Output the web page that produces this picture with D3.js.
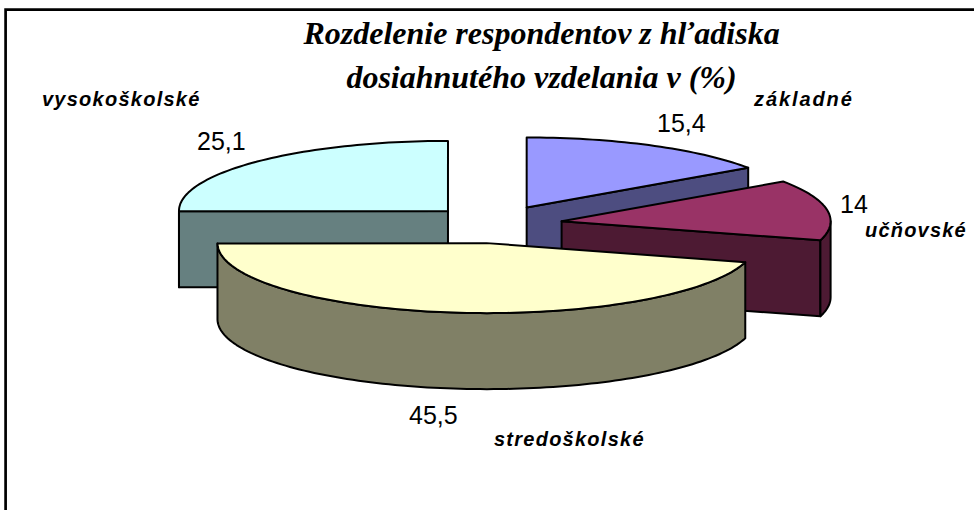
<!DOCTYPE html>
<html>
<head>
<meta charset="utf-8">
<script src="https://cdn.jsdelivr.net/npm/d3@7"></script>
<style>
    html, body { margin: 0; padding: 0; background: #fff; }
    svg { display: block; }
</style>
</head>
<body>
<div id="chart"></div>
<script>
// Chart data
const categories = ["základné", "učňovské", "stredoškolské", "vysokoškolské"]
const values = [15.4, 14, 45.5, 25.1]
const valueLabels = ["15,4", "14", "45,5", "25,1"]
const titleLines = ["Rozdelenie respondentov z hľadiska", "dosiahnutého vzdelania v (%)"]

const topColours = ["#9999ff", "#993366", "#ffffcc", "#ccffff"]
const sideColours = ["#4d4d80", "#4d1a33", "#808066", "#668080"]

// Define chart parameters
const WIDTH = 974
const HEIGHT = 510
const PIE = {CENTREX:495.5, CENTREY:224.3, RX:269, RY:70, DEPTH:76, EXPLODEX:67, EXPLODEY:19}

// Label anchor points, one per category
const VALUE_POS = [[657,132], [840,213], [409,424], [197,150]]
const NAME_POS = [[754,106], [865,237], [494,446], [42,106]]
const NAME_SPACING = [1.9, 1.2, 1.25, 1.25]

let svg = d3.select("#chart").append("svg")
    .attr('width', WIDTH)
    .attr('height', HEIGHT)

// Frame: only the top and left lines are visible in the picture
svg.append('path')
    .attr('d', d3.line()([[5.6,HEIGHT],[5.6,9.6],[WIDTH,9.6]]))
    .attr('fill', 'none')
    .attr('stroke', '#000')
    .attr('stroke-width', 2.7)

// Pie layout, in drawing order from the first slice clockwise from 12 o'clock
let pie = d3.pie().sort(null).startAngle(0).endAngle(2*Math.PI)
let slices = pie(values).map((d,i) => {
    const mid = (d.startAngle + d.endAngle) / 2
    return {
        ...d, i,
        cx: PIE.CENTREX + PIE.EXPLODEX * Math.sin(mid),
        cy: PIE.CENTREY - PIE.EXPLODEY * Math.cos(mid)
    }
})

// Project an angle on the rim of a slice to screen coordinates, z is the drop below the top face
const rimPoint = (s, a, z=0) => [s.cx + PIE.RX * Math.sin(a), s.cy - PIE.RY * Math.cos(a) + z]
const rimRange = (s, a0, a1, z=0) => {
    const n = Math.max(2, Math.ceil(Math.abs(a1-a0) * 40))
    return d3.range(n+1).map(k => rimPoint(s, a0 + (a1-a0)*k/n, z))
}
const line = d3.line()

// Back to front: vysokoškolské, základné, učňovské, stredoškolské
const order = [3, 0, 1, 2]
const g = svg.append('g')
    .attr('stroke', '#000')
    .attr('stroke-width', 2)
    .attr('stroke-linejoin', 'round')

order.forEach(i => {
    const s = slices[i]
    const apex = [s.cx, s.cy]
    const a0 = s.startAngle, a1 = s.endAngle
    const down = p => [p[0], p[1] + PIE.DEPTH]

    // Front cut face, seen when the slice ends left of the right side or starts on the left side
    if (i === 0 || i === 1) {
        const p = rimPoint(s, a1)
        g.append('path').attr('fill', sideColours[i])
            .attr('d', line([apex, p, down(p), down(apex)]) + 'Z')
    }
    if (i === 3) {
        const p = rimPoint(s, a0)
        g.append('path').attr('fill', sideColours[i])
            .attr('d', line([p, apex, down(apex), down(p)]) + 'Z')
    }

    // Outer wall, the part of the rim that faces the viewer (90 to 270 degrees)
    const w0 = Math.max(a0, Math.PI/2), w1 = Math.min(a1, 3*Math.PI/2)
    if (w1 > w0) {
        g.append('path').attr('fill', sideColours[i])
            .attr('d', line(rimRange(s, w0, w1).concat(rimRange(s, w1, w0, PIE.DEPTH))) + 'Z')
    }

    // Top face
    g.append('path').attr('fill', topColours[i])
        .attr('d', line([apex].concat(rimRange(s, a0, a1))) + 'Z')
})

// Title
svg.append('g').selectAll('text')
    .data(titleLines)
    .enter()
    .append('text')
    .attr('x', 541.5)
    .attr('y', (d,i) => 44 + i*43.5)
    .attr('text-anchor', 'middle')
    .style('font', 'italic bold 32px "Liberation Serif"')
    .text(d => d)

// Value labels
svg.append('g').selectAll('text')
    .data(valueLabels)
    .enter()
    .append('text')
    .attr('x', (d,i) => VALUE_POS[i][0])
    .attr('y', (d,i) => VALUE_POS[i][1])
    .style('font', '25px "Liberation Sans"')
    .text(d => d)

// Category labels
svg.append('g').selectAll('text')
    .data(categories)
    .enter()
    .append('text')
    .attr('x', (d,i) => NAME_POS[i][0])
    .attr('y', (d,i) => NAME_POS[i][1])
    .style('font', 'italic bold 20px "Liberation Sans"')
    .style('letter-spacing', (d,i) => NAME_SPACING[i] + 'px')
    .text(d => d)
</script>
</body>
</html>
